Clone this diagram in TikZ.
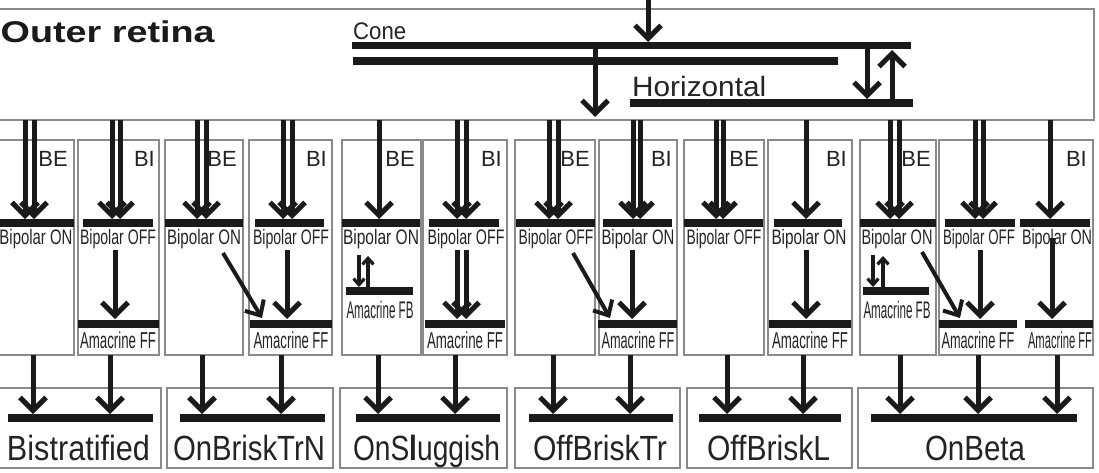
\documentclass[tikz,border=0pt]{standalone}
\usepackage{fontspec}
\setmainfont{Liberation Sans}
\usepackage{graphicx}
\usetikzlibrary{arrows.meta}
\definecolor{ink}{HTML}{1A1A1A}
\definecolor{txt}{HTML}{242424}
\definecolor{frame}{HTML}{8A8A8A}
\newbox\sqbox
% squeeze text horizontally to a given width (pt)
\newcommand\sq[2]{\setbox\sqbox=\hbox{#2}\pgfmathsetmacro\sqf{#1/\the\wd\sqbox}\scalebox{\sqf}[1]{\box\sqbox}}
\newcommand\Cell[5]{\node[cell,minimum width={(#4-#2)*1pt},minimum height={(#5-#3)*1pt}] (#1) at ({(#2+#4)/2},{(#3+#5)/2}) {};}
\newcommand\Bbar[5][8]{\node[bar,minimum height=#1pt,minimum width={(#4-#3)*1pt}] (#2) at ({(#3+#4)/2},#5) {};}
\begin{document}
\begin{tikzpicture}[x=1pt,y=-1pt,
  arr/.style={draw=ink,line width=5pt,-{Straight Barb[length=13pt,width=26pt]}},
  darr/.style={draw=ink,line width=4pt,-{Straight Barb[length=12pt,width=22pt]}},
  sarr/.style={draw=ink,line width=3.2pt,-{Straight Barb[length=6pt,width=11pt]}},
  cell/.style={draw=frame,line width=1.3pt,inner sep=0pt,outer sep=0pt},
  bar/.style={fill=ink,draw=none,inner sep=0pt,outer sep=0pt},
  blab/.style={inner sep=0pt,anchor=base,text=txt,font=\fontsize{21}{21}\selectfont},
  alab/.style={inner sep=0pt,anchor=base,text=txt,font=\fontsize{23}{23}\selectfont},
  flab/.style={inner sep=0pt,anchor=base,text=txt,font=\fontsize{24}{24}\selectfont},
  tlab/.style={inner sep=0pt,anchor=base,text=txt,font=\fontsize{22}{22}\selectfont},
  glab/.style={inner sep=0pt,anchor=base,text=txt,font=\fontsize{35}{35}\selectfont},
]
\useasboundingbox (0,0) rectangle (1099,473);
\clip (0,0) rectangle (1099,473);
\fill[white] (0,0) rectangle (1099,473);

% ---------------- outer retina ----------------
\Cell{outer}{-2}{9}{1094}{120}
\node[inner sep=0pt,anchor=base west,text=ink,font=\fontsize{30}{30}\selectfont\bfseries] (otitle) at (0.5,43) {\sq{214}{Outer retina}};
\node[inner sep=0pt,anchor=base west,text=txt,font=\fontsize{24}{24}\selectfont] (conelab) at (353,40) {\sq{53}{Cone}};
\Bbar[7]{cone1}{352}{911}{45.5}
\Bbar[8]{cone2}{353}{838}{61}
\node[inner sep=0pt,anchor=base west,text=txt,font=\fontsize{28}{28}\selectfont] (horlab) at (632,97) {\sq{134}{Horizontal}};
\Bbar[8]{horiz}{630}{913}{103}
\draw[arr] (648,-6) -- (648,42);
\draw[arr] (595,49) -- (595,117);
\draw[arr] (867,49) -- (867,99);
\draw[arr] (892,99) -- (892,50);

% ---------------- cells ----------------
\Cell{c1e}{-2}{140}{74}{355}   \Cell{c1i}{78}{140}{159}{355}
\Cell{c2e}{165}{140}{243}{355} \Cell{c2i}{249}{140}{332}{355}
\Cell{c3e}{342}{140}{421}{355} \Cell{c3i}{423}{140}{507}{355}
\Cell{c4e}{515}{140}{595}{355} \Cell{c4i}{599}{140}{677}{355}
\Cell{c5e}{684}{140}{764}{355} \Cell{c5i}{768}{140}{852}{355}
\Cell{c6e}{860}{140}{936}{355} \Cell{c6i}{939}{140}{1093}{355}

% BE / BI labels
\foreach \n/\x/\t in {be1/68/BE,bi1/155/BI,be2/237/BE,bi2/327/BI,be3/415/BE,bi3/502/BI,be4/590/BE,bi4/672/BI,be5/759/BE,bi5/847/BI,be6/931/BE,bi6/1087/BI}
  \node[tlab,anchor=base east] (\n) at (\x,167) {\t};

% bipolar bars
\Bbar{bp1e}{-2}{74}{223}    \Bbar{bp1i}{83}{153}{223}
\Bbar{bp2e}{165}{243}{223}  \Bbar{bp2i}{255}{324}{223}
\Bbar{bp3e}{342}{420}{223}  \Bbar{bp3i}{429}{499}{223}
\Bbar{bp4e}{516}{595}{223}  \Bbar{bp4i}{603}{672}{223}
\Bbar{bp5e}{684}{763}{223}  \Bbar{bp5i}{774}{842}{223}
\Bbar{bp6e}{860}{936}{223}  \Bbar{bp6a}{945}{1015}{223} \Bbar{bp6b}{1020}{1090}{223}

% bipolar labels
\node[blab] (l1e) at (36,244) {\sq{73}{Bipolar ON}};
\node[blab] (l1i) at (118,244) {\sq{76}{Bipolar OFF}};
\node[blab] (l2e) at (204,244) {\sq{74}{Bipolar ON}};
\node[blab] (l2i) at (291,244) {\sq{76}{Bipolar OFF}};
\node[blab] (l3e) at (381,244) {\sq{76}{Bipolar ON}};
\node[blab] (l3i) at (466,244) {\sq{77}{Bipolar OFF}};
\node[blab] (l4e) at (556,244) {\sq{75}{Bipolar OFF}};
\node[blab] (l4i) at (638,244) {\sq{73}{Bipolar ON}};
\node[blab] (l5e) at (724,244) {\sq{75}{Bipolar OFF}};
\node[blab] (l5i) at (809,244) {\sq{75}{Bipolar ON}};
\node[blab] (l6e) at (897,244) {\sq{71}{Bipolar ON}};
\node[blab] (l6a) at (979,244) {\sq{72}{Bipolar OFF}};
\node[blab] (l6b) at (1057,244) {\sq{70}{Bipolar ON}};

% inputs from outer retina
\foreach \x in {25,34,112,120,197,206,283,292,379,457,466,549,558,633,640,716,723,806,890,899,975,983,1050}
  \draw[arr] (\x,120) -- (\x,219);

% amacrine FF bars + labels
\Bbar{am1}{78}{159}{323.5}    \node[alab] (al1) at (118,348) {\sq{76}{Amacrine FF}};
\Bbar{am2}{250}{332}{323.5}   \node[alab] (al2) at (291,348) {\sq{75}{Amacrine FF}};
\Bbar{am3}{425}{505}{323.5}   \node[alab] (al3) at (465,348) {\sq{76}{Amacrine FF}};
\Bbar{am4}{598}{677}{323.5}   \node[alab] (al4) at (638,348) {\sq{73}{Amacrine FF}};
\Bbar{am5}{769}{851}{323.5}   \node[alab] (al5) at (810,348) {\sq{76}{Amacrine FF}};
\Bbar{am6a}{939}{1017}{323.5} \node[alab] (al6a) at (978,348) {\sq{73}{Amacrine FF}};
\Bbar{am6b}{1025}{1093}{323.5}\node[alab] (al6b) at (1060,348) {\sq{64}{Amacrine FF}};

% amacrine FB bars + labels
\Bbar{fb3}{346}{413}{291}  \node[flab] (fl3) at (380,318) {\sq{67}{Amacrine FB}};
\Bbar{fb6}{863}{929}{291}  \node[flab] (fl6) at (897,318) {\sq{67}{Amacrine FB}};
\draw[sarr] (359,255) -- (359,287);
\draw[sarr] (368,287) -- (368,256);
\draw[sarr] (873,255) -- (873,287);
\draw[sarr] (883,287) -- (883,256);

% bipolar -> amacrine FF
\foreach \x in {115,287,457,466,632,806,980}
  \draw[arr] (\x,250) -- (\x,319);
\draw[arr] (1052,238) -- (1052,319);
\draw[darr] (223,253) -- (262,318);
\draw[darr] (573,253) -- (610,318);
\draw[darr] (922,252) -- (960,318);

% ---------------- ganglion cells ----------------
\Cell{g1}{-2}{388}{161}{468}
\Cell{g2}{167}{388}{333}{468}
\Cell{g3}{340}{388}{507}{468}
\Cell{g4}{515}{388}{680}{468}
\Cell{g5}{687}{388}{852}{468}
\Cell{g6}{858}{388}{1093}{468}
\Bbar{gb1}{8}{153}{418}
\Bbar{gb2}{180}{325}{418}
\Bbar{gb3}{356}{500}{418}
\Bbar{gb4}{529}{673}{418}
\Bbar{gb5}{699}{841}{418}
\Bbar{gb6}{871}{1077}{418}
\foreach \x in {33,110,202,281,378,455,553,630,727,803,900,978,1057}
  \draw[arr] (\x,355) -- (\x,414);
\node[glab] (n1) at (78.5,460) {\sq{143}{Bistratified}};
\node[glab] (n2) at (249,460) {\sq{152}{OnBriskTrN}};
\node[glab] (n3) at (426.5,460) {\sq{147}{OnS\textbf{l}uggish}};
\node[glab] (n4) at (600,460) {\sq{134}{OffBriskTr}};
\node[glab] (n5) at (768.5,460) {\sq{123}{OffBriskL}};
\node[glab] (n6) at (975,460) {\sq{100}{OnBeta}};
\end{tikzpicture}
\end{document}
